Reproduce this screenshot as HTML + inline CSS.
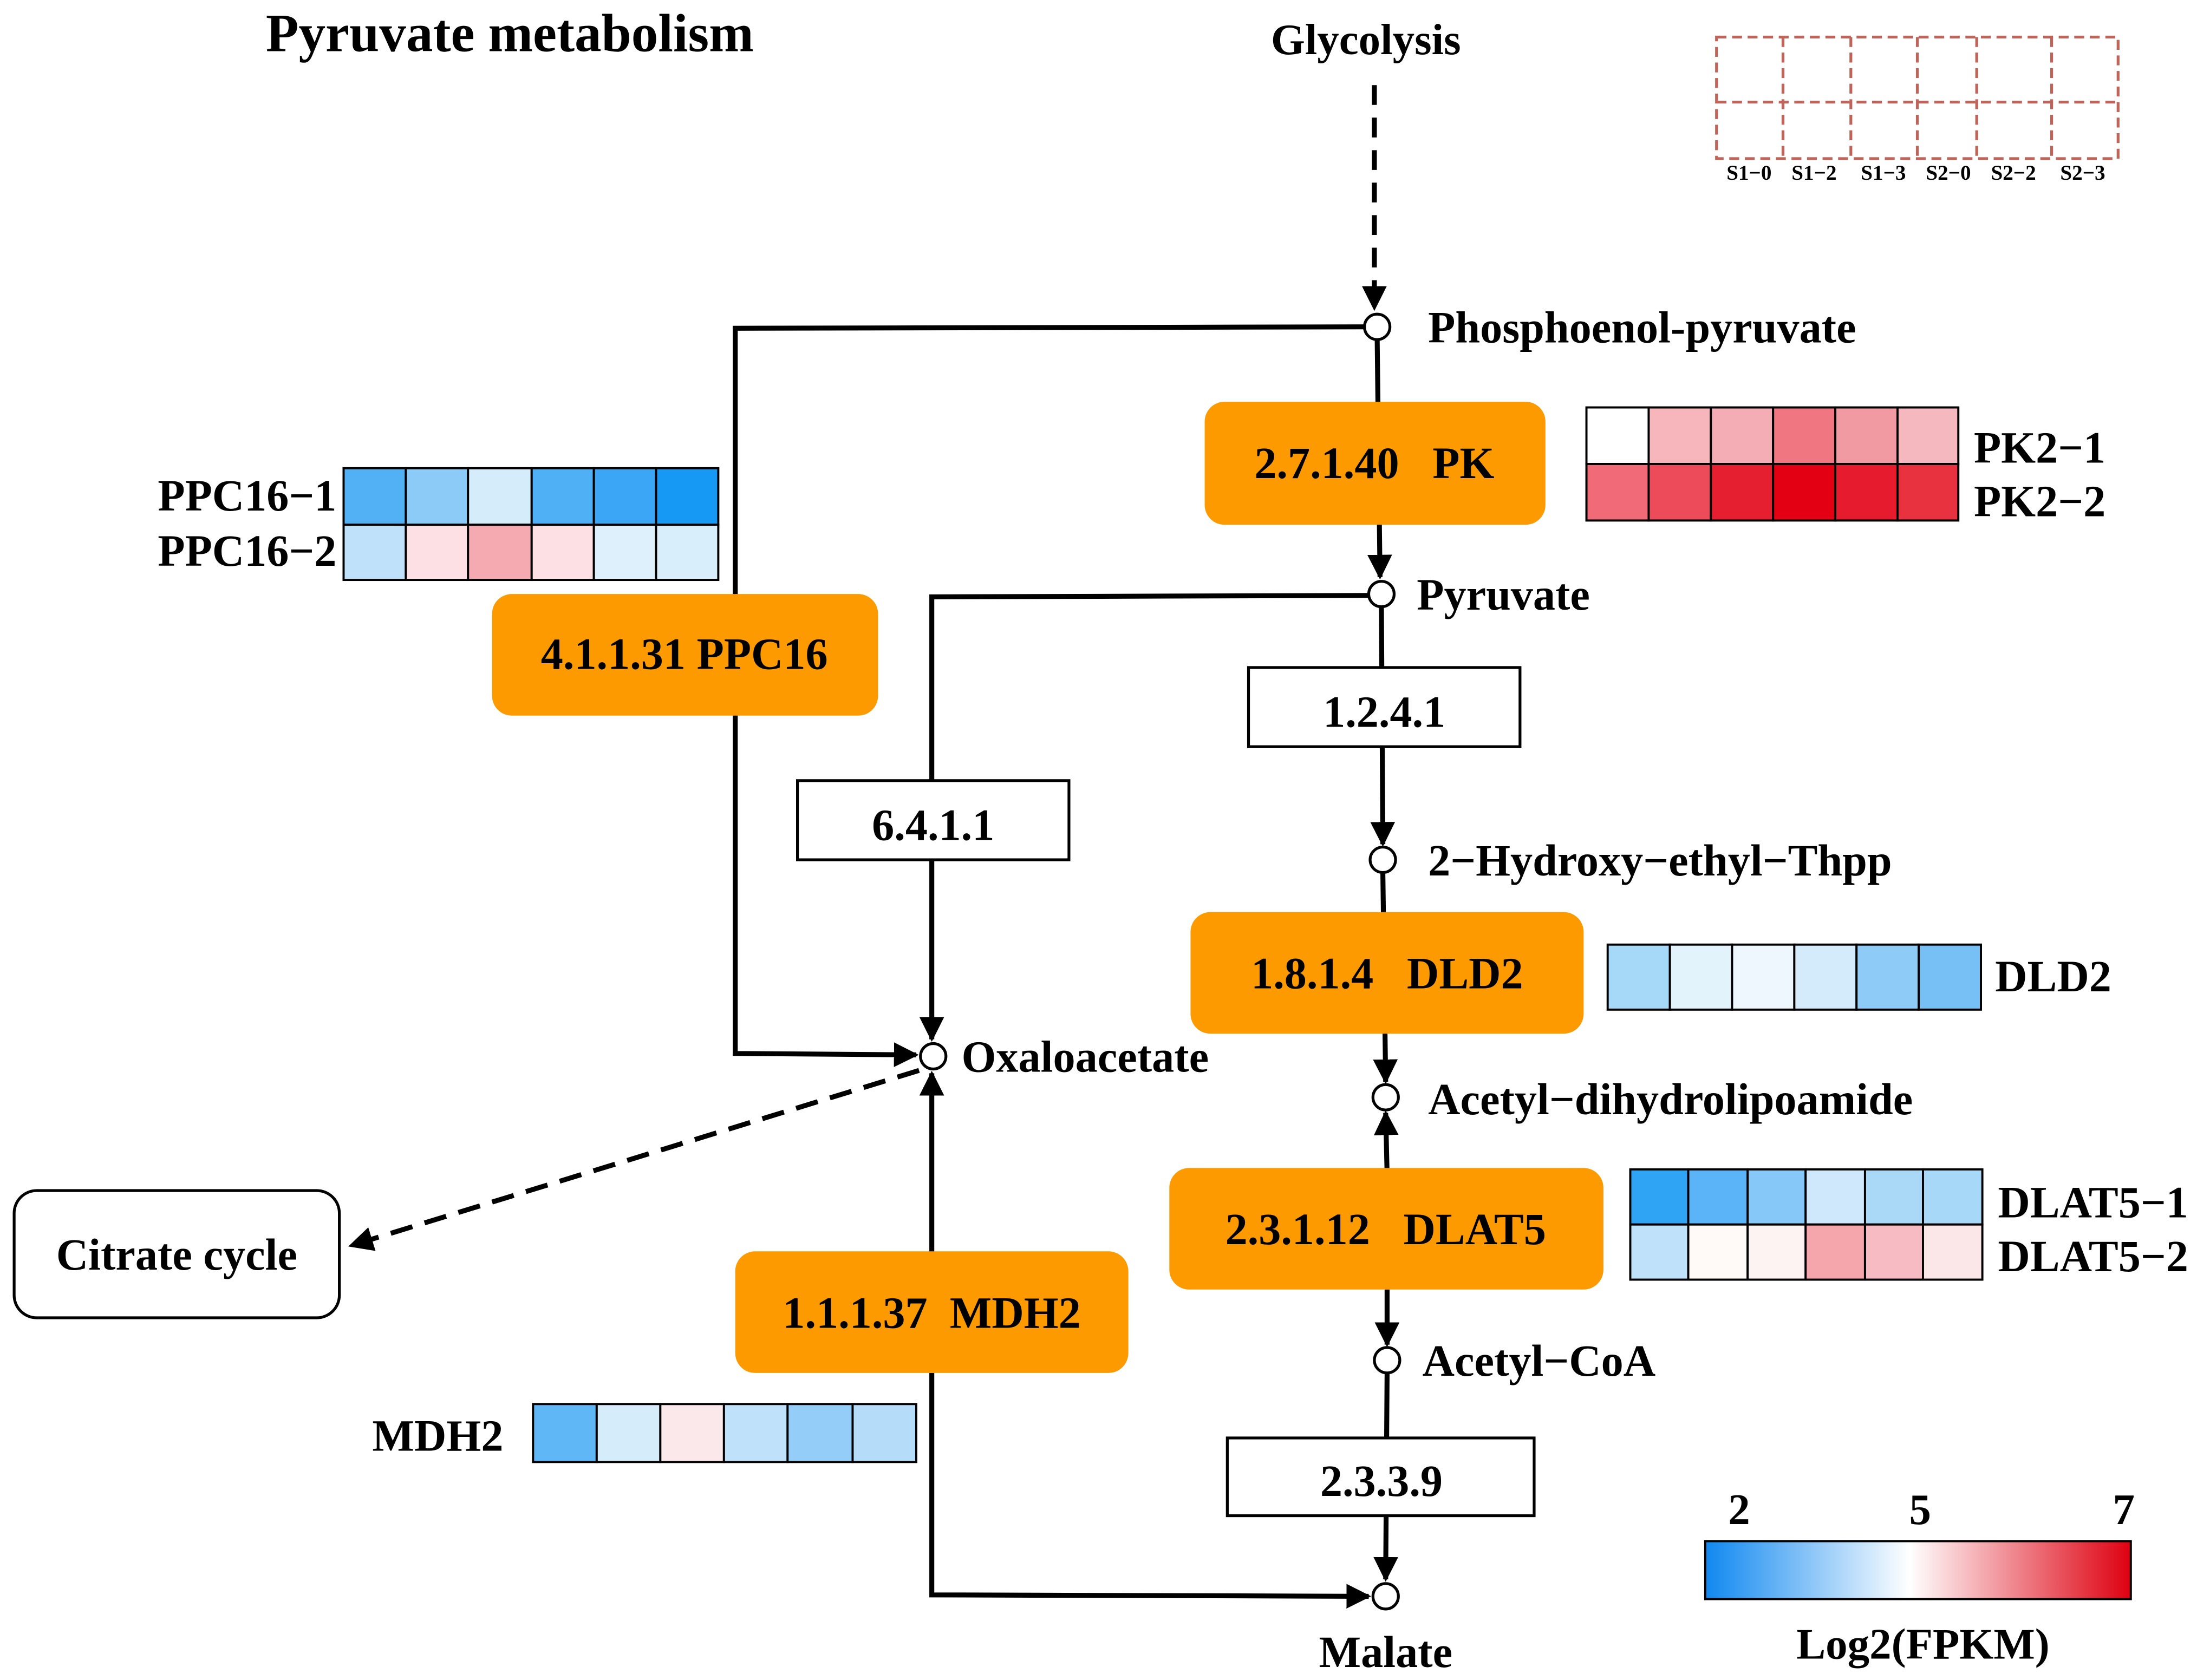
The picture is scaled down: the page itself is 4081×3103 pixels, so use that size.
<!DOCTYPE html>
<html><head><meta charset="utf-8"><style>html,body{margin:0;padding:0;background:#fff}svg{display:block}</style></head>
<body>
<svg width="4081" height="3103" viewBox="0 0 1563 1188" xmlns="http://www.w3.org/2000/svg" font-family="Liberation Serif, serif" font-weight="bold">
<defs>
<marker id="a" viewBox="0 0 10 10" refX="9" refY="5" markerWidth="5" markerHeight="5" orient="auto-start-reverse" markerUnits="strokeWidth"><path d="M0,0 L10,5 L0,10 z" fill="#000"/></marker>
<linearGradient id="g" x1="0" x2="1"><stop offset="0" stop-color="#1088f0"/><stop offset="0.48" stop-color="#fff"/><stop offset="1" stop-color="#de0010"/></linearGradient>
</defs>
<rect width="1563" height="1188" fill="#fff"/>
<text x="188" y="36" font-size="38">Pyruvate metabolism</text>
<text x="966" y="38" font-size="31" text-anchor="middle">Glycolysis</text>
<g stroke="#c0645a" stroke-width="2" stroke-dasharray="7,4" fill="none">
<rect x="1214" y="26" width="284" height="86"/>
<line x1="1214" y1="72" x2="1498" y2="72"/>
<line x1="1261" y1="26" x2="1261" y2="112"/><line x1="1309" y1="26" x2="1309" y2="112"/><line x1="1356" y1="26" x2="1356" y2="112"/><line x1="1398" y1="26" x2="1398" y2="112"/><line x1="1451" y1="26" x2="1451" y2="112"/>
</g>
<g font-size="15" text-anchor="middle"><text x="1237" y="127">S1−0</text><text x="1283" y="127">S1−2</text><text x="1332" y="127">S1−3</text><text x="1378" y="127">S2−0</text><text x="1424" y="127">S2−2</text><text x="1473" y="127">S2−3</text></g>

<g stroke="#000" stroke-width="3.5" fill="none">
<line x1="972" y1="60" x2="972" y2="218" stroke-dasharray="14,9" marker-end="url(#a)"/>
<polyline points="965,231 520,232 520,745 648,746" marker-end="url(#a)"/>
<line x1="974" y1="240" x2="976" y2="408" marker-end="url(#a)"/>
<polyline points="968,421 659,422 659,735" marker-end="url(#a)"/>
<line x1="977" y1="429" x2="978" y2="597" marker-end="url(#a)"/>
<line x1="978" y1="617" x2="980" y2="765" marker-end="url(#a)"/>
<line x1="981" y1="830" x2="980" y2="787" marker-end="url(#a)"/>
<line x1="981" y1="912" x2="981" y2="951" marker-end="url(#a)"/>
<line x1="981" y1="971" x2="980" y2="1117" marker-end="url(#a)"/>
<line x1="659" y1="888" x2="659" y2="759" marker-end="url(#a)"/>
<polyline points="659,971 659,1128 968,1129" marker-end="url(#a)"/>
<line x1="650" y1="757" x2="248" y2="881" stroke-dasharray="16,9" marker-end="url(#a)"/>
</g>
<g fill="#fff" stroke="#000" stroke-width="2">
<circle cx="974" cy="231" r="9"/><circle cx="977" cy="420" r="9"/><circle cx="978" cy="608" r="9"/><circle cx="980" cy="776" r="9"/><circle cx="981" cy="962" r="9"/><circle cx="980" cy="1129" r="9"/><circle cx="660" cy="747" r="9"/>
</g>
<g font-size="31.5">
<text x="1010" y="242">Phosphoenol-pyruvate</text>
<text x="1002" y="431">Pyruvate</text>
<text x="1010" y="619">2−Hydroxy−ethyl−Thpp</text>
<text x="1010" y="788">Acetyl−dihydrolipoamide</text>
<text x="1006" y="973">Acetyl−CoA</text>
<text x="980" y="1179" text-anchor="middle">Malate</text>
<text x="680" y="758">Oxaloacetate</text>
</g>
<g fill="#fd9a00">
<rect x="852" y="284" width="241" height="87" rx="14"/>
<rect x="348" y="420" width="273" height="86" rx="14"/>
<rect x="842" y="645" width="278" height="86" rx="14"/>
<rect x="827" y="826" width="307" height="86" rx="14"/>
<rect x="520" y="885" width="278" height="86" rx="14"/>
</g>
<g font-size="31.5" text-anchor="middle">
<text x="972" y="338" xml:space="preserve">2.7.1.40   PK</text>
<text x="484" y="473">4.1.1.31 PPC16</text>
<text x="981" y="699" xml:space="preserve">1.8.1.4   DLD2</text>
<text x="980" y="880" xml:space="preserve">2.3.1.12   DLAT5</text>
<text x="659" y="939" xml:space="preserve">1.1.1.37  MDH2</text>
</g>
<g fill="#fff" stroke="#000" stroke-width="2">
<rect x="564" y="552" width="192" height="56"/>
<rect x="883" y="472" width="192" height="56"/>
<rect x="868" y="1017" width="217" height="55"/>
<rect x="10" y="842" width="230" height="90" rx="16"/>
</g>
<g font-size="31.5" text-anchor="middle">
<text x="660" y="594">6.4.1.1</text>
<text x="979" y="514">1.2.4.1</text>
<text x="977" y="1058">2.3.3.9</text>
<text x="125" y="898">Citrate cycle</text>
</g>
<g stroke="#000" stroke-width="1.5">
<rect x="1122" y="288" width="44" height="40" fill="#fff"/><rect x="1166" y="288" width="44" height="40" fill="#f6b6bc"/><rect x="1210" y="288" width="44" height="40" fill="#f5adb5"/><rect x="1254" y="288" width="44" height="40" fill="#f07781"/><rect x="1298" y="288" width="44" height="40" fill="#f29aa2"/><rect x="1342" y="288" width="43" height="40" fill="#f6b8bf"/>
<rect x="1122" y="328" width="44" height="40" fill="#f16a78"/><rect x="1166" y="328" width="44" height="40" fill="#ed4b5a"/><rect x="1210" y="328" width="44" height="40" fill="#e51e30"/><rect x="1254" y="328" width="44" height="40" fill="#e40012"/><rect x="1298" y="328" width="44" height="40" fill="#e61b2e"/><rect x="1342" y="328" width="43" height="40" fill="#e8323f"/>
<rect x="243" y="331" width="44" height="40" fill="#52b0f5"/><rect x="287" y="331" width="44" height="40" fill="#8ccbf8"/><rect x="331" y="331" width="45" height="40" fill="#d5ecfb"/><rect x="376" y="331" width="44" height="40" fill="#4fb0f5"/><rect x="420" y="331" width="44" height="40" fill="#3aa6f5"/><rect x="464" y="331" width="44" height="40" fill="#1599f5"/>
<rect x="243" y="371" width="44" height="39" fill="#bfe2fa"/><rect x="287" y="371" width="44" height="39" fill="#fde0e3"/><rect x="331" y="371" width="45" height="39" fill="#f5aab1"/><rect x="376" y="371" width="44" height="39" fill="#fde0e3"/><rect x="420" y="371" width="44" height="39" fill="#ddf0fb"/><rect x="464" y="371" width="44" height="39" fill="#d9eefb"/>
<rect x="1137" y="668" width="44" height="46" fill="#a6d8f7"/><rect x="1181" y="668" width="44" height="46" fill="#e3f3fc"/><rect x="1225" y="668" width="44" height="46" fill="#eef7fd"/><rect x="1269" y="668" width="44" height="46" fill="#d3ebfb"/><rect x="1313" y="668" width="44" height="46" fill="#8fcbf7"/><rect x="1357" y="668" width="44" height="46" fill="#76c0f6"/>
<rect x="1153" y="827" width="41" height="39" fill="#2fa4f5"/><rect x="1194" y="827" width="42" height="39" fill="#5ab4f7"/><rect x="1236" y="827" width="41" height="39" fill="#86c9f8"/><rect x="1277" y="827" width="42" height="39" fill="#cfe8fb"/><rect x="1319" y="827" width="41" height="39" fill="#aad9f8"/><rect x="1360" y="827" width="42" height="39" fill="#a8d8f8"/>
<rect x="1153" y="866" width="41" height="39" fill="#bfe2fa"/><rect x="1194" y="866" width="42" height="39" fill="#fff9f8"/><rect x="1236" y="866" width="41" height="39" fill="#fdf3f2"/><rect x="1277" y="866" width="42" height="39" fill="#f5a5ac"/><rect x="1319" y="866" width="41" height="39" fill="#f7bcc3"/><rect x="1360" y="866" width="42" height="39" fill="#fbe7e8"/>
<rect x="377" y="993" width="45" height="41" fill="#5fb7f5"/><rect x="422" y="993" width="45" height="41" fill="#d5ecfb"/><rect x="467" y="993" width="45" height="41" fill="#fbe8ea"/><rect x="512" y="993" width="45" height="41" fill="#bfe2fa"/><rect x="557" y="993" width="46" height="41" fill="#94cef8"/><rect x="603" y="993" width="45" height="41" fill="#b5ddf9"/>
</g>
<g font-size="31.5">
<text x="1396" y="327">PK2−1</text><text x="1396" y="365">PK2−2</text>
<text x="238" y="361" text-anchor="end">PPC16−1</text><text x="238" y="400" text-anchor="end">PPC16−2</text>
<text x="1411" y="701">DLD2</text>
<text x="1413" y="861">DLAT5−1</text><text x="1413" y="899">DLAT5−2</text>
<text x="356" y="1026" text-anchor="end">MDH2</text>
</g>
<rect x="1206" y="1090" width="301" height="41" fill="url(#g)" stroke="#000" stroke-width="1.5"/>
<g font-size="31" text-anchor="middle"><text x="1230" y="1078">2</text><text x="1358" y="1078">5</text><text x="1502" y="1078">7</text><text x="1360" y="1173">Log2(FPKM)</text></g>
</svg>
</body></html>
